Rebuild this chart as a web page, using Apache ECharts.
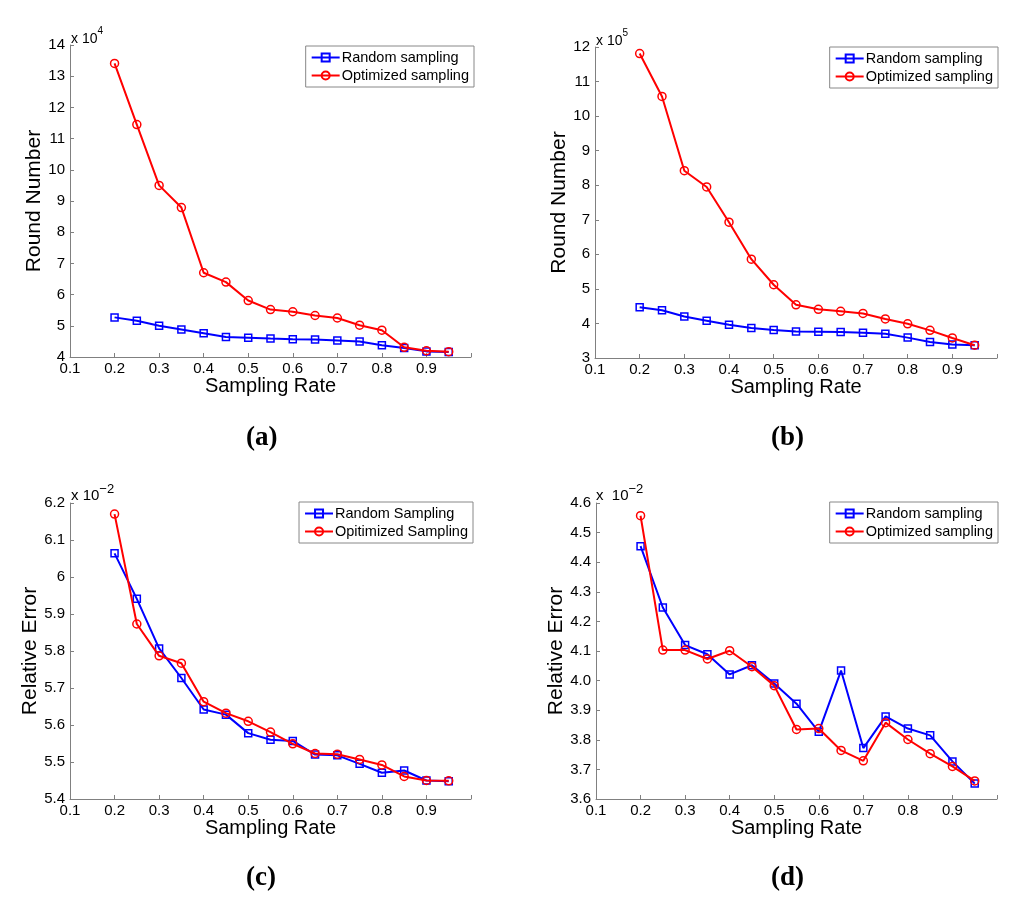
<!DOCTYPE html>
<html><head><meta charset="utf-8">
<script src="https://cdn.jsdelivr.net/npm/echarts@6/dist/echarts.min.js"></script>
<style>html,body{margin:0;padding:0;background:#fff}#c{width:1024px;height:908px}</style>
</head><body><div id="c"></div>
<script>
// Sampling rates (x values)
const samplingRates = [0.2,0.25,0.3,0.35,0.4,0.45,0.5,0.55,0.6,0.65,0.7,0.75,0.8,0.85,0.9,0.95];
const xTicks = [0.1,0.2,0.3,0.4,0.5,0.6,0.7,0.8,0.9];

// (a) Round Number, x 10^4
const roundA_random    = [5.27,5.16,5.00,4.88,4.76,4.64,4.62,4.59,4.57,4.56,4.53,4.50,4.38,4.29,4.18,4.16];
const roundA_optimized = [13.41,11.45,9.50,8.79,6.70,6.40,5.81,5.52,5.45,5.33,5.25,5.02,4.86,4.31,4.20,4.17];

// (b) Round Number, x 10^5
const roundB_random    = [4.47,4.38,4.20,4.08,3.96,3.87,3.81,3.77,3.76,3.75,3.73,3.70,3.59,3.46,3.39,3.37];
const roundB_optimized = [11.81,10.57,8.42,7.95,6.93,5.86,5.12,4.54,4.41,4.35,4.29,4.13,3.99,3.80,3.58,3.37];

// (c) Relative Error, x 10^-2
const errC_random    = [6.064,5.941,5.807,5.727,5.642,5.628,5.578,5.560,5.557,5.520,5.518,5.495,5.471,5.477,5.450,5.448];
const errC_optimized = [6.170,5.873,5.787,5.767,5.663,5.632,5.610,5.581,5.549,5.523,5.521,5.507,5.492,5.461,5.450,5.449];

// (d) Relative Error, x 10^-2
const errD_random    = [4.454,4.247,4.120,4.089,4.021,4.052,3.990,3.922,3.827,4.034,3.772,3.879,3.838,3.815,3.727,3.652];
const errD_optimized = [4.557,4.103,4.103,4.073,4.101,4.047,3.983,3.835,3.838,3.764,3.729,3.858,3.801,3.753,3.710,3.661];

const panelLabels = ['a','b','c','d'];
const legendNames = [
  ['Random sampling','Optimized sampling'],
  ['Random sampling','Optimized sampling'],
  ['Random Sampling','Opitimized Sampling'],
  ['Random sampling','Optimized sampling']
];
const yTitles = ['Round Number','Round Number','Relative Error','Relative Error'];
const exps = ['4','5','\u22122','\u22122'];

const FONT = 'Liberation Sans, Arial, sans-serif';
const AXIS_GREY = '#808080';
const BLUE = '#0000ff', RED = '#ff0000';

const grids = [
  {left:70, top:45, width:401, height:312},
  {left:595, top:47, width:402, height:311},
  {left:70, top:503, width:401, height:296},
  {left:596, top:503, width:401, height:296}
];
const yRanges = [
  {min:4, max:14, interval:1, fmt:v=>String(Math.round(v))},
  {min:3, max:12, interval:1, fmt:v=>String(Math.round(v))},
  {min:5.4, max:6.2, interval:0.1, fmt:v=>String(+(+v).toFixed(1))},
  {min:3.6, max:4.6, interval:0.1, fmt:v=>(+v).toFixed(1)}
];
const dataSets = [
  [roundA_random, roundA_optimized],
  [roundB_random, roundB_optimized],
  [errC_random, errC_optimized],
  [errD_random, errD_optimized]
];
const yNameGaps = [20, 20, 25, 27];

function pairs(ys){ return samplingRates.map((x,i)=>[x, ys[i]]); }

const xAxes = grids.map((g,i)=>({
  type:'value', gridIndex:i, min:0.1, max:1.0, interval:0.1,
  name:'Sampling Rate', nameLocation:'middle', nameGap:17,
  nameTextStyle:{fontFamily:FONT, fontSize:20, color:'#000'},
  axisLine:{show:true, onZero:false, lineStyle:{color:AXIS_GREY, width:1}},
  axisTick:{show:true, inside:true, length:4, lineStyle:{color:AXIS_GREY}},
  axisLabel:{fontFamily:FONT, fontSize:15, color:'#000', margin:4,
    formatter:v=> (v>0.95 ? '' : String(+(+v).toFixed(1)))},
  splitLine:{show:false}
}));
const yAxes = grids.map((g,i)=>({
  type:'value', gridIndex:i, min:yRanges[i].min, max:yRanges[i].max, interval:yRanges[i].interval,
  name:yTitles[i], nameLocation:'middle', nameGap:yNameGaps[i], nameRotate:90,
  nameTextStyle:{fontFamily:FONT, fontSize:21, color:'#000'},
  axisLine:{show:true, onZero:false, lineStyle:{color:AXIS_GREY, width:1}},
  axisTick:{show:true, inside:true, length:4, lineStyle:{color:AXIS_GREY}},
  axisLabel:{fontFamily:FONT, fontSize:15, color:'#000', margin:5, formatter:yRanges[i].fmt},
  splitLine:{show:false}
}));

const series = [];
dataSets.forEach((ds,i)=>{
  series.push({
    name:legendNames[i][0], type:'line', xAxisIndex:i, yAxisIndex:i,
    data:pairs(ds[0]), symbol:'rect', symbolSize:7,
    lineStyle:{color:BLUE, width:2},
    itemStyle:{color:'rgba(255,255,255,0)', borderColor:BLUE, borderWidth:1.5},
    z:2
  });
  series.push({
    name:legendNames[i][1], type:'line', xAxisIndex:i, yAxisIndex:i,
    data:pairs(ds[1]), symbol:'circle', symbolSize:8,
    lineStyle:{color:RED, width:2},
    itemStyle:{color:'rgba(255,255,255,0)', borderColor:RED, borderWidth:1.5},
    z:3
  });
});

const legendPos = [
  {right:550, top:46},
  {right:26, top:47},
  {right:551, top:502},
  {right:26, top:502}
];
const legends = legendPos.map((p,i)=>Object.assign({
  data:legendNames[i], orient:'vertical', selectedMode:false,
  backgroundColor:'#fff', borderColor:'#888', borderWidth:1,
  padding:[4,5,4,5], itemGap:3, itemWidth:28, itemHeight:10,
  textStyle:{fontFamily:FONT, fontSize:14.5, color:'#000', padding:[0,0,0,-3]}
}, p));

const graphics = [];
const labelCenters = [[263,437],[788,437],[263,877],[788,877]];
labelCenters.forEach((c,i)=>{
  graphics.push({type:'text', left:c[0]-17, top:c[1]-12,
    style:{text:'('+panelLabels[i]+')', fontFamily:'Liberation Serif, Times New Roman, serif',
      fontWeight:'bold', fontSize:27, fill:'#000'}});
});
const expPos = [[71,26],[596,28],[71,483],[596,483]];
expPos.forEach((p,i)=>{
  const big = i>=2;
  graphics.push({type:'text', left:p[0], top:p[1],
    style:{
      rich:{
        base:{fontFamily:FONT, fontSize: big?15:14, fill:'#000', verticalAlign:'bottom', lineHeight:20},
        sup:{fontFamily:FONT, fontSize: big?13:10, fill:'#000', verticalAlign:'top', lineHeight:20, padding:[0,0,big?6:8,0]}
      },
      text:'{base|x'+ (i===3?'  ':' ') +'10}{sup|'+exps[i]+'}'
    }});
});

const chart = echarts.init(document.getElementById('c'), null, {renderer:'canvas'});
chart.setOption({
  animation:false,
  backgroundColor:'#fff',
  grid:grids,
  xAxis:xAxes,
  yAxis:yAxes,
  legend:legends,
  series:series,
  graphic:graphics
});
</script></body></html>
